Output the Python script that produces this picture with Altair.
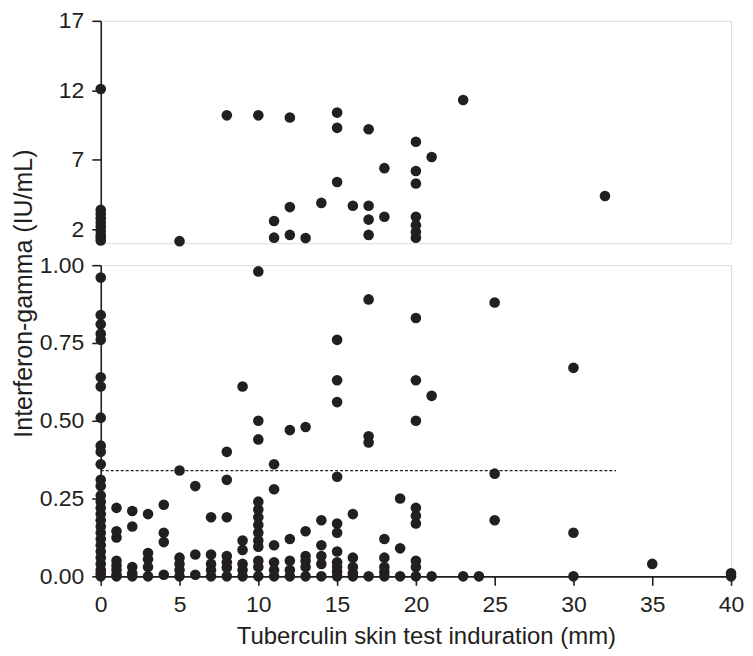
import altair as alt
import pandas as pd

FONT = "Liberation Sans"
INK = "#231f20"

# Interferon-gamma values (IU/mL) read for each tuberculin induration column (mm)
ifn_0mm = [12.1, 3.4, 3.1, 2.8, 2.5, 2.2, 1.9, 1.6, 1.4, 1.2,
           0.96, 0.84, 0.81, 0.78, 0.76, 0.64, 0.61, 0.51, 0.42, 0.40, 0.36, 0.31, 0.29, 0.26,
           0.24, 0.22, 0.20, 0.18, 0.16, 0.14, 0.12, 0.10, 0.08, 0.06, 0.04, 0.02, 0.01, 0.0]
ifn_1mm = [0.22, 0.145, 0.125, 0.05, 0.035, 0.02, 0.005, 0.0]
ifn_2mm = [0.21, 0.16, 0.03, 0.01, 0.0]
ifn_3mm = [0.20, 0.075, 0.055, 0.03, 0.0]
ifn_4mm = [0.23, 0.14, 0.11, 0.005]
ifn_5mm = [1.15, 0.34, 0.06, 0.04, 0.02, 0.0]
ifn_6mm = [0.29, 0.07, 0.005]
ifn_7mm = [0.19, 0.07, 0.04, 0.02, 0.0]
ifn_8mm = [10.2, 0.40, 0.31, 0.19, 0.065, 0.045, 0.028, 0.0]
ifn_9mm = [0.61, 0.115, 0.085, 0.04, 0.02, 0.0]
ifn_10mm = [10.2, 0.98, 0.50, 0.44, 0.24, 0.215, 0.19, 0.165, 0.14, 0.115, 0.095, 0.05, 0.03, 0.0]
ifn_11mm = [2.6, 1.4, 0.36, 0.28, 0.10, 0.045, 0.02, 0.0]
ifn_12mm = [10.05, 3.6, 1.6, 0.47, 0.12, 0.05, 0.02, 0.0]
ifn_13mm = [1.37, 0.48, 0.145, 0.065, 0.05, 0.03, 0.0]
ifn_14mm = [3.9, 0.18, 0.10, 0.065, 0.04, 0.0]
ifn_15mm = [10.4, 9.3, 5.4, 0.76, 0.63, 0.56, 0.32, 0.17, 0.14, 0.08, 0.045, 0.03, 0.015, 0.0]
ifn_16mm = [3.7, 0.20, 0.06, 0.03, 0.01, 0.0]
ifn_17mm = [9.2, 3.7, 2.7, 1.6, 0.89, 0.45, 0.43, 0.0]
ifn_18mm = [6.4, 2.9, 0.12, 0.06, 0.03, 0.015, 0.0]
ifn_19mm = [0.25, 0.09, 0.0]
ifn_20mm = [8.3, 6.2, 5.3, 2.9, 2.3, 1.8, 1.4, 0.83, 0.63, 0.50, 0.22, 0.195, 0.17, 0.05, 0.03, 0.0]
ifn_21mm = [7.2, 0.58, 0.0]
ifn_23mm = [11.3, 0.0]
ifn_24mm = [0.0]
ifn_25mm = [0.88, 0.33, 0.18]
ifn_30mm = [0.67, 0.14, 0.0]
ifn_32mm = [4.4]
ifn_35mm = [0.04]
ifn_40mm = [0.01, 0.0]

induration_mm = [0, 1, 2, 3, 4, 5, 6, 7, 8, 9, 10, 11, 12, 13, 14, 15, 16, 17, 18, 19, 20,
                 21, 23, 24, 25, 30, 32, 35, 40]
ifn_columns = [ifn_0mm, ifn_1mm, ifn_2mm, ifn_3mm, ifn_4mm, ifn_5mm, ifn_6mm, ifn_7mm,
               ifn_8mm, ifn_9mm, ifn_10mm, ifn_11mm, ifn_12mm, ifn_13mm, ifn_14mm, ifn_15mm,
               ifn_16mm, ifn_17mm, ifn_18mm, ifn_19mm, ifn_20mm, ifn_21mm, ifn_23mm, ifn_24mm,
               ifn_25mm, ifn_30mm, ifn_32mm, ifn_35mm, ifn_40mm]

# cut-off line (IU/mL) and its horizontal extent (mm)
cutoff_ifn = [0.34]
cutoff_from_mm = [0]
cutoff_to_mm = [32.7]

x_ticks = [0, 5, 10, 15, 20, 25, 30, 35, 40]
upper_ticks = [2, 7, 12, 17]
lower_ticks = [0, 0.25, 0.5, 0.75, 1.0]

rows = [{"tst": x, "ifn": v} for x, vals in zip(induration_mm, ifn_columns) for v in vals]
df = pd.DataFrame(rows)
cut_df = pd.DataFrame({"y": cutoff_ifn, "x0": cutoff_from_mm, "x1": cutoff_to_mm})

x_scale = alt.Scale(domain=[0, 40], nice=False, zero=False)

axis_style = dict(
    labelFont=FONT, labelFontSize=23, labelColor=INK,
    titleFont=FONT, titleColor=INK, titleFontWeight="normal",
    domainColor=INK, domainWidth=1.6, tickColor=INK, tickWidth=1.6, tickSize=9,
    grid=False, labelFlush=False,
)

PLOT_W = 632

upper = alt.Chart(df).transform_filter("datum.ifn > 1").mark_circle(
    size=113, color=INK, opacity=1
).encode(
    x=alt.X("tst:Q", scale=x_scale, axis=None),
    y=alt.Y("ifn:Q", scale=alt.Scale(domain=[1, 17], nice=False, zero=False),
            axis=alt.Axis(values=upper_ticks, title=None, labelPadding=8, **axis_style)),
).properties(width=PLOT_W, height=223)

lower_points = alt.Chart(df).transform_filter("datum.ifn <= 1").mark_circle(
    size=113, color=INK, opacity=1
).encode(
    x=alt.X("tst:Q", scale=x_scale,
            axis=alt.Axis(values=x_ticks, title="Tuberculin skin test induration (mm)",
                          titleFontSize=24, labelPadding=8, titlePadding=8,
                          titleX=326, titleAlign="center", **axis_style)),
    y=alt.Y("ifn:Q", scale=alt.Scale(domain=[0, 1], nice=False),
            axis=alt.Axis(values=lower_ticks, format=".2f", title="Interferon-gamma (IU/mL)",
                          titleFontSize=25, labelPadding=8, titleX=-77, titleY=28,
                          titleAlign="center", titleBaseline="middle", titleAngle=270,
                          **axis_style)),
)

cut_line = alt.Chart(cut_df).mark_rule(strokeDash=[3, 2], strokeWidth=1.2, color=INK).encode(
    x="x0:Q", x2="x1:Q", y="y:Q"
)

lower = alt.layer(lower_points, cut_line).properties(width=PLOT_W, height=312)

chart = alt.vconcat(
    upper, lower, spacing=22, bounds="flush",
    padding={"left": 3, "top": 0, "right": 0, "bottom": 0},
).configure_view(stroke=None).configure(background="white")

chart.save("out.html", embed_options={"renderer": "svg", "actions": False})
